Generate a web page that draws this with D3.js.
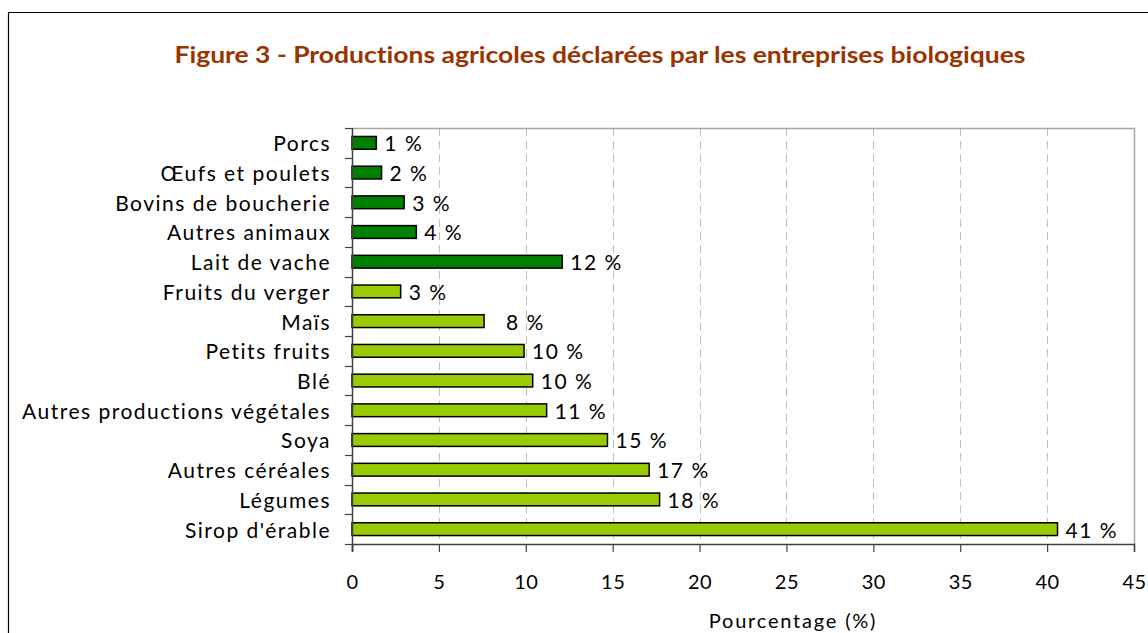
<!DOCTYPE html>
<html>
<head>
<meta charset="utf-8">
<script src="https://cdn.jsdelivr.net/npm/d3@7"></script>
<style>
  body { margin: 0; background: #fff; }
  svg { display: block; }
  text { font-variant-ligatures: none; }
</style>
</head>
<body>
<div class="chart"></div>
<script>
// données (de haut en bas)
const categories = ["Porcs", "Œufs et poulets", "Bovins de boucherie", "Autres animaux", "Lait de vache",
  "Fruits du verger", "Maïs", "Petits fruits", "Blé", "Autres productions végétales", "Soya",
  "Autres céréales", "Légumes", "Sirop d'érable"]
const values = [1.4, 1.7, 3.0, 3.7, 12.1, 2.8, 7.6, 9.9, 10.4, 11.2, 14.7, 17.1, 17.7, 40.6]
const valueLabels = ["1 %", "2 %", "3 %", "4 %", "12 %", "3 %", "8 %", "10 %", "10 %", "11 %",
  "15 %", "17 %", "18 %", "41 %"]
const groups = ["animal", "animal", "animal", "animal", "animal", "vegetal", "vegetal", "vegetal",
  "vegetal", "vegetal", "vegetal", "vegetal", "vegetal", "vegetal"]
const xTicks = [0, 5, 10, 15, 20, 25, 30, 35, 40, 45]

const width = 1148
const height = 633
const margin = { top: 128, right: 14, bottom: 89, left: 352 }
const font = "Lato, 'Open Sans', sans-serif"

const svg = d3.select(".chart").append("svg")
  .attr("width", width)
  .attr("height", height)

// cadre extérieur (seulement haut et gauche visibles)
svg.append("path")
  .attr("d", `M8.5,${height} L8.5,12.5 L${width},12.5`)
  .attr("fill", "none")
  .attr("stroke", "#000")
  .attr("stroke-width", 1.2)

svg.append("text")
  .attr("x", 600)
  .attr("y", 63)
  .attr("text-anchor", "middle")
  .attr("font-family", font)
  .attr("font-weight", "bold")
  .attr("font-size", "22px")
  .attr("fill", "#993300")
  .attr("textLength", 851)
  .attr("lengthAdjust", "spacingAndGlyphs")
  .text("Figure 3 - Productions agricoles déclarées par les entreprises biologiques")

const x = d3.scaleLinear()
  .domain([0, 45])
  .range([margin.left, width - margin.right])

const y = d3.scaleBand()
  .domain(categories)
  .range([margin.top, height - margin.bottom])
  .paddingInner(0.57)
  .paddingOuter(0.285)

const colors = d3.scaleOrdinal()
  .domain(["animal", "vegetal"])
  .range(["#008000", "#99cc00"])

// grille verticale pointillée
svg.append("g")
  .selectAll("line")
  .data(xTicks.filter(d => d > 0 && d < 45))
  .enter()
  .append("line")
  .attr("x1", d => Math.round(x(d)) + 0.5)
  .attr("x2", d => Math.round(x(d)) + 0.5)
  .attr("y1", margin.top)
  .attr("y2", height - margin.bottom)
  .attr("stroke", "#bfbfbf")
  .attr("stroke-dasharray", "8,5")

// bordure haut / droite de la zone de tracé
svg.append("path")
  .attr("d", `M${margin.left},${margin.top + 0.5} L${Math.round(x(45)) + 0.5},${margin.top + 0.5} L${Math.round(x(45)) + 0.5},${height - margin.bottom}`)
  .attr("fill", "none")
  .attr("stroke", "#a6a6a6")
  .attr("stroke-width", 1.5)

// barres
svg.append("g")
  .selectAll("rect")
  .data(categories)
  .enter()
  .append("rect")
  .attr("x", x(0))
  .attr("y", d => y(d))
  .attr("width", (d, i) => x(values[i]) - x(0))
  .attr("height", y.bandwidth())
  .attr("fill", (d, i) => colors(groups[i]))
  .attr("stroke", "#000")
  .attr("stroke-width", 1.5)

// étiquettes de valeurs
svg.append("g")
  .selectAll("text")
  .data(categories)
  .enter()
  .append("text")
  .attr("x", (d, i) => x(values[i]) + (d === "Maïs" ? 22 : 8))
  .attr("y", d => y(d) + y.bandwidth() / 2)
  .attr("dy", "0.4em")
  .attr("font-family", font)
  .attr("font-size", "21px")
  .attr("letter-spacing", "1.5px")
  .attr("fill", "#000")
  .text((d, i) => valueLabels[i])

// axe des catégories
const yAxis = svg.append("g")
  .attr("transform", `translate(${margin.left},0)`)

yAxis.append("line")
  .attr("x1", 0.5).attr("x2", 0.5)
  .attr("y1", margin.top).attr("y2", height - margin.bottom + 7)
  .attr("stroke", "#404040")
  .attr("stroke-width", 1.5)

yAxis.selectAll(".tick")
  .data(d3.range(categories.length + 1))
  .enter()
  .append("line")
  .attr("x1", -7).attr("x2", 0)
  .attr("y1", i => Math.round(margin.top + i * y.step()) + 0.5)
  .attr("y2", i => Math.round(margin.top + i * y.step()) + 0.5)
  .attr("stroke", "#404040")
  .attr("stroke-width", 1.2)

yAxis.selectAll("text")
  .data(categories)
  .enter()
  .append("text")
  .attr("x", -21)
  .attr("y", d => y(d) + y.bandwidth() / 2)
  .attr("dy", "0.4em")
  .attr("text-anchor", "end")
  .attr("font-family", font)
  .attr("font-size", "21px")
  .attr("letter-spacing", "1.5px")
  .attr("fill", "#000")
  .text(d => d)

// axe des x
const xAxis = svg.append("g")
  .attr("transform", `translate(0,${height - margin.bottom})`)
  .call(d3.axisBottom(x).tickValues(xTicks).tickSize(8).tickPadding(23))

xAxis.select(".domain")
  .attr("stroke", "#404040")
  .attr("stroke-width", 1.5)
xAxis.selectAll(".tick line")
  .attr("stroke", "#404040")
  .attr("stroke-width", 1.2)
xAxis.selectAll(".tick text")
  .attr("font-family", font)
  .attr("font-size", "20px")
  .attr("letter-spacing", "0.5px")
  .attr("fill", "#000")

svg.append("text")
  .attr("x", 793)
  .attr("y", 628)
  .attr("text-anchor", "middle")
  .attr("font-family", font)
  .attr("font-size", "20px")
  .attr("letter-spacing", "1.8px")
  .attr("fill", "#000")
  .text("Pourcentage (%)")
</script>
</body>
</html>
